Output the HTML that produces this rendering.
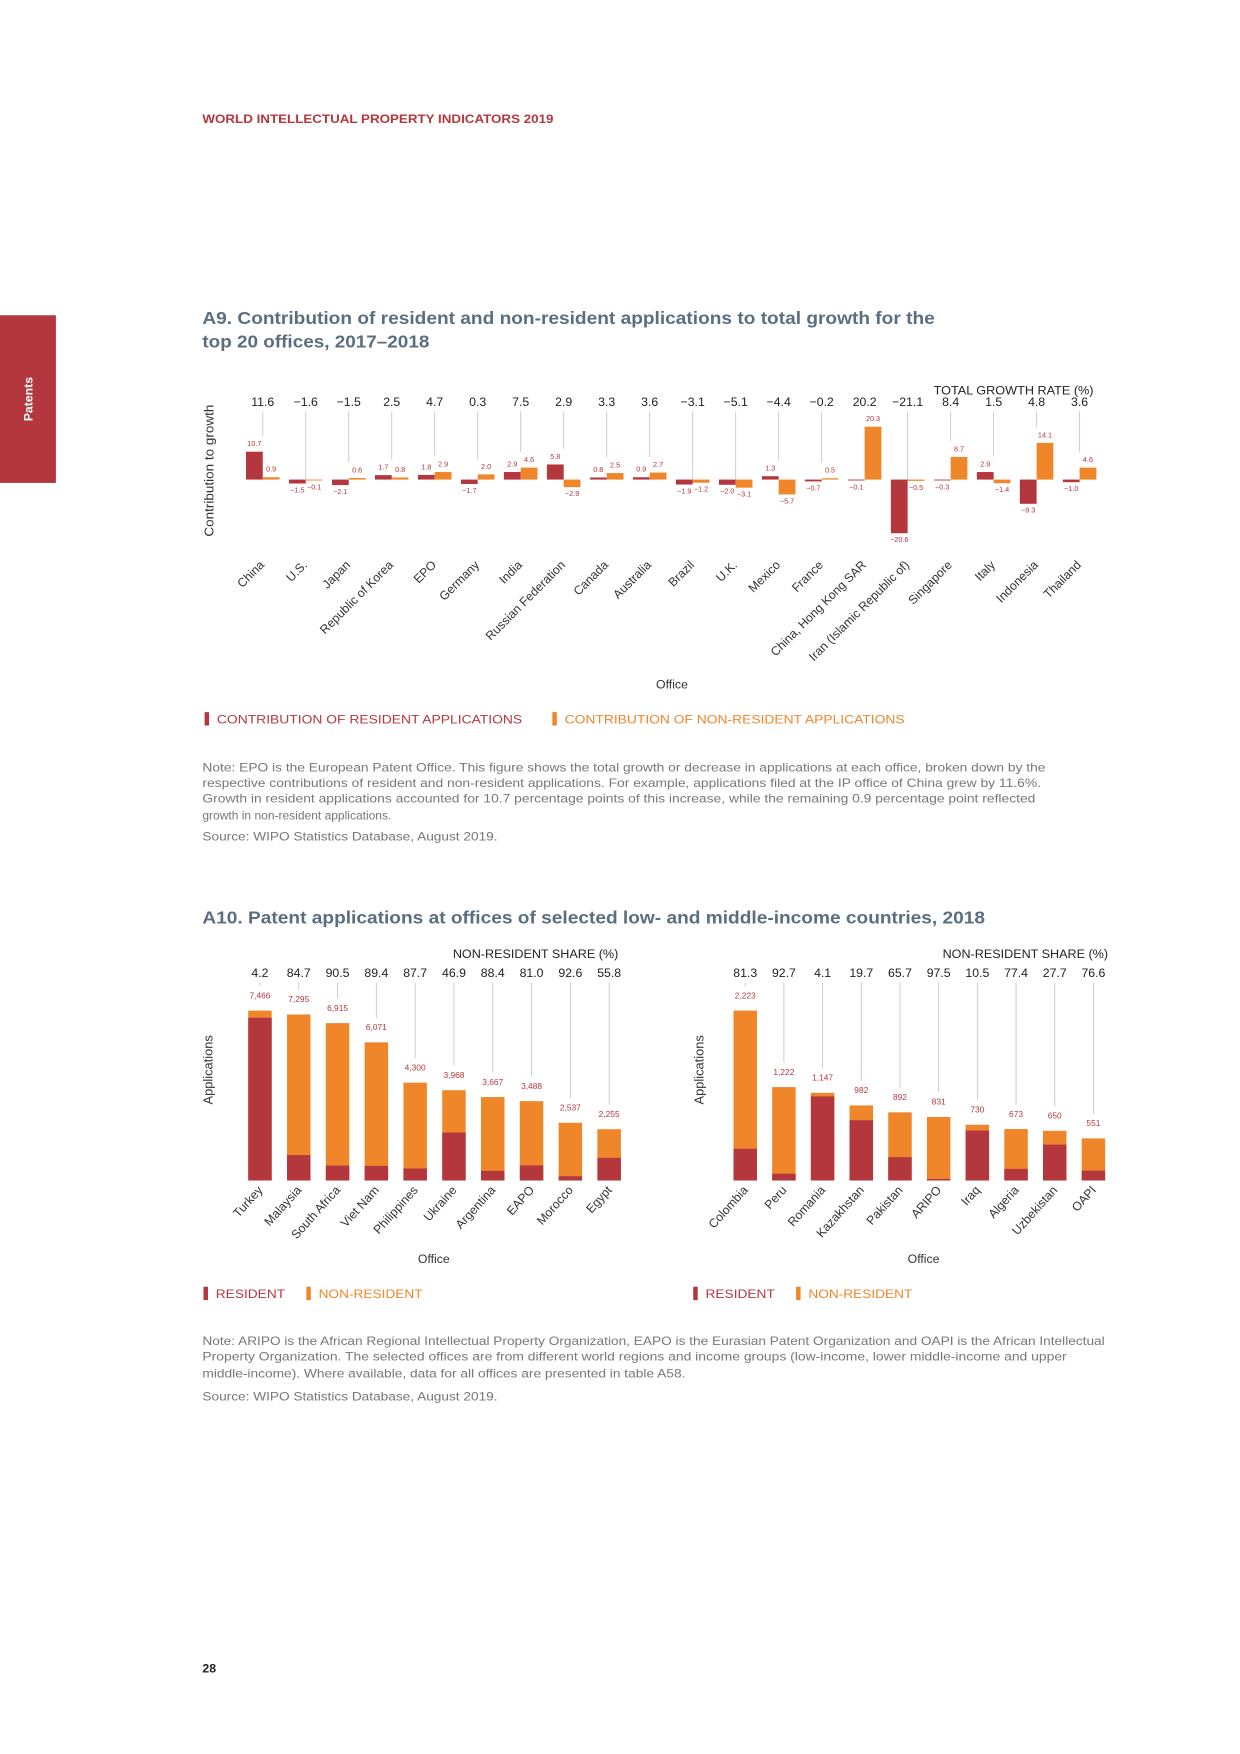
<!DOCTYPE html>
<html><head><meta charset="utf-8"><style>
html,body{margin:0;padding:0;background:#fff}
svg{display:block;font-family:"Liberation Sans",Arial,sans-serif}
</style></head><body>
<svg id="page" width="1240" height="1754" viewBox="0 0 1109 1569" preserveAspectRatio="none" xmlns="http://www.w3.org/2000/svg">
<text x="181" y="110" font-size="11" font-weight="bold" fill="#b5373e" textLength="314" lengthAdjust="spacingAndGlyphs">WORLD INTELLECTUAL PROPERTY INDICATORS 2019</text>
<rect x="0" y="282" width="50" height="150" fill="#b5373e"/>
<text transform="translate(29,357) rotate(-90)" text-anchor="middle" font-size="11" font-weight="bold" fill="#fff">Patents</text>

<text x="181" y="290" font-size="15.5" font-weight="bold" fill="#5b6e7f" textLength="655" lengthAdjust="spacingAndGlyphs">A9. Contribution of resident and non-resident applications to total growth for the</text>
<text x="181" y="311" font-size="15.5" font-weight="bold" fill="#5b6e7f" textLength="203" lengthAdjust="spacingAndGlyphs">top 20 offices, 2017–2018</text>
<g id="a9"></g>
<text transform="translate(191,421) rotate(-90)" text-anchor="middle" font-size="11.5" fill="#333" textLength="118" lengthAdjust="spacingAndGlyphs">Contribution to growth</text>
<text x="835" y="353" font-size="11" fill="#222" textLength="143" lengthAdjust="spacingAndGlyphs">TOTAL GROWTH RATE (%)</text>
<text x="601" y="616" text-anchor="middle" font-size="11" fill="#333">Office</text>
<g>
<rect x="183" y="637" width="4" height="12" fill="#b5373e"/>
<text x="194" y="647" font-size="11" fill="#b5373e" textLength="273" lengthAdjust="spacingAndGlyphs">CONTRIBUTION OF RESIDENT APPLICATIONS</text>
<rect x="494" y="637" width="4" height="12" fill="#f0862a"/>
<text x="505" y="647" font-size="11" fill="#f0862a" textLength="304" lengthAdjust="spacingAndGlyphs">CONTRIBUTION OF NON-RESIDENT APPLICATIONS</text>
</g>
<g font-size="10.5" fill="#777">
<text x="181" y="690" textLength="754" lengthAdjust="spacingAndGlyphs">Note: EPO is the European Patent Office. This figure shows the total growth or decrease in applications at each office, broken down by the</text>
<text x="181" y="704" textLength="750" lengthAdjust="spacingAndGlyphs">respective contributions of resident and non-resident applications. For example, applications filed at the IP office of China grew by 11.6%.</text>
<text x="181" y="718" textLength="745" lengthAdjust="spacingAndGlyphs">Growth in resident applications accounted for 10.7 percentage points of this increase, while the remaining 0.9 percentage point reflected</text>
<text x="181" y="733" textLength="169" lengthAdjust="spacingAndGlyphs">growth in non-resident applications.</text>
<text x="181" y="752" textLength="264" lengthAdjust="spacingAndGlyphs">Source: WIPO Statistics Database, August 2019.</text>
</g>

<text x="181" y="826" font-size="15.5" font-weight="bold" fill="#5b6e7f" textLength="700" lengthAdjust="spacingAndGlyphs">A10. Patent applications at offices of selected low- and middle-income countries, 2018</text>
<g id="a10l"></g>
<g id="a10r"></g>
<text x="405" y="857" font-size="11" fill="#222" textLength="148" lengthAdjust="spacingAndGlyphs">NON-RESIDENT SHARE (%)</text>
<text x="843" y="857" font-size="11" fill="#222" textLength="148" lengthAdjust="spacingAndGlyphs">NON-RESIDENT SHARE (%)</text>
<text transform="translate(190,957) rotate(-90)" text-anchor="middle" font-size="11.5" fill="#333">Applications</text>
<text transform="translate(629,957) rotate(-90)" text-anchor="middle" font-size="11.5" fill="#333">Applications</text>
<text x="388" y="1130" text-anchor="middle" font-size="11" fill="#333">Office</text>
<text x="826" y="1130" text-anchor="middle" font-size="11" fill="#333">Office</text>
<g>
<rect x="182" y="1151" width="4" height="12" fill="#b5373e"/>
<text x="193" y="1161" font-size="11" fill="#b5373e" textLength="62" lengthAdjust="spacingAndGlyphs">RESIDENT</text>
<rect x="274" y="1151" width="4" height="12" fill="#f0862a"/>
<text x="285" y="1161" font-size="11" fill="#f0862a" textLength="93" lengthAdjust="spacingAndGlyphs">NON-RESIDENT</text>
</g>
<g>
<rect x="620" y="1151" width="4" height="12" fill="#b5373e"/>
<text x="631" y="1161" font-size="11" fill="#b5373e" textLength="62" lengthAdjust="spacingAndGlyphs">RESIDENT</text>
<rect x="712" y="1151" width="4" height="12" fill="#f0862a"/>
<text x="723" y="1161" font-size="11" fill="#f0862a" textLength="93" lengthAdjust="spacingAndGlyphs">NON-RESIDENT</text>
</g>
<g font-size="10.5" fill="#777">
<text x="181" y="1203" textLength="807" lengthAdjust="spacingAndGlyphs">Note: ARIPO is the African Regional Intellectual Property Organization, EAPO is the Eurasian Patent Organization and OAPI is the African Intellectual</text>
<text x="181" y="1217" textLength="773" lengthAdjust="spacingAndGlyphs">Property Organization. The selected offices are from different world regions and income groups (low-income, lower middle-income and upper</text>
<text x="181" y="1232" textLength="432" lengthAdjust="spacingAndGlyphs">middle-income). Where available, data for all offices are presented in table A58.</text>
<text x="181" y="1253" textLength="264" lengthAdjust="spacingAndGlyphs">Source: WIPO Statistics Database, August 2019.</text>
</g>
<text x="181" y="1496" font-size="11" font-weight="bold" fill="#222">28</text>
</svg>
<script>
const a9Offices = ["China","U.S.","Japan","Republic of Korea","EPO","Germany","India","Russian Federation","Canada","Australia","Brazil","U.K.","Mexico","France","China, Hong Kong SAR","Iran (Islamic Republic of)","Singapore","Italy","Indonesia","Thailand"];
const a9Resident = [10.7,-1.5,-2.1,1.7,1.8,-1.7,2.9,5.8,0.8,0.9,-1.9,-2.0,1.3,-0.7,-0.1,-20.6,-0.3,2.9,-9.3,-1.0];
const a9NonResident = [0.9,-0.1,0.6,0.8,2.9,2.0,4.6,-2.9,2.5,2.7,-1.2,-3.1,-5.7,0.5,20.3,-0.5,8.7,-1.4,14.1,4.6];
const a9Growth = ["11.6","−1.6","−1.5","2.5","4.7","0.3","7.5","2.9","3.3","3.6","−3.1","−5.1","−4.4","−0.2","20.2","−21.1","8.4","1.5","4.8","3.6"];

const leftOffices = ["Turkey","Malaysia","South Africa","Viet Nam","Philippines","Ukraine","Argentina","EAPO","Morocco","Egypt"];
const leftTotals = [7466,7295,6915,6071,4300,3968,3667,3488,2537,2255];
const leftShares = [4.2,84.7,90.5,89.4,87.7,46.9,88.4,81.0,92.6,55.8];
const rightOffices = ["Colombia","Peru","Romania","Kazakhstan","Pakistan","ARIPO","Iraq","Algeria","Uzbekistan","OAPI"];
const rightTotals = [2223,1222,1147,982,892,831,730,673,650,551];
const rightShares = [81.3,92.7,4.1,19.7,65.7,97.5,10.5,77.4,27.7,76.6];

const NS="http://www.w3.org/2000/svg";
const RED="#b5373e", ORG="#f0862a";
function mk(tag, attrs, parent){const e=document.createElementNS(NS,tag);for(const k in attrs)e.setAttribute(k,attrs[k]);parent.appendChild(e);return e;}
function fmtNum(v){return v.toLocaleString("en-US");}
function fmtSigned(v){return (v<0?"−":"")+Math.abs(v).toFixed(1);}

// A9
(function(){
  const g=document.getElementById("a9");
  const zeroY=429, sc=2.33, x0=235, step=38.45, bw=15;
  const y=v=>zeroY-v*sc;
  a9Offices.forEach((name,i)=>{
    const cx=x0+i*step;
    const r=a9Resident[i], n=a9NonResident[i];
    const gt=mk("text",{x:cx,y:363,"text-anchor":"middle","font-size":"11",fill:"#222"},g);
    
    
    gt.textContent=a9Growth[i];
    const maxPos=Math.max(0,r,n);
    const lineEnd = maxPos>0 ? y(maxPos)-14 : zeroY;
    const ln=mk("line",{x1:cx,x2:cx,y1:368,y2:lineEnd,stroke:"#c8c8c8","stroke-width":"0.8"},g);
    
    
    [[r,cx-bw,RED,'resident-bar'],[n,cx,ORG,'nonresident-bar']].forEach(([v,bx,col,nm])=>{
      const top=Math.min(y(v),zeroY), h=Math.max(Math.abs(y(v)-zeroY),0.8);
      const b=mk("rect",{x:bx,y:top,width:bw,height:h,fill:col},g);
      
      
      const ly = v>=0 ? top-5 : top+h+8;
      const t=mk("text",{x:bx+bw/2,y:ly,"text-anchor":"middle","font-size":"6.5",fill:RED},g);
      
      
      t.textContent=fmtSigned(v);
    });
    const c=mk("text",{transform:`translate(${cx+2},506) rotate(-45)`,"text-anchor":"end","font-size":"11",fill:"#333"},g);
    
    
    c.textContent=name;
  });
})();

// A10
function drawA10(id,offices,totals,shares,x0,step,maxVal){
  const g=document.getElementById(id);
  const base=1056, hmax=152, bw=21;
  const h=v=>v/maxVal*hmax;
  offices.forEach((name,i)=>{
    const cx=x0+i*step;
    const tot=totals[i], res=tot*(1-shares[i]/100);
    const topY=base-h(tot), resY=base-h(res);
    const st=mk("text",{x:cx,y:874,"text-anchor":"middle","font-size":"11",fill:"#222"},g);
    
    
    st.textContent=shares[i].toFixed(1);
    const ln=mk("line",{x1:cx,x2:cx,y1:879,y2:topY-22,stroke:"#c8c8c8","stroke-width":"0.8"},g);
    
    
    const ob=mk("rect",{x:cx-bw/2,y:topY,width:bw,height:base-topY,fill:ORG},g);
    
    
    const rb=mk("rect",{x:cx-bw/2,y:resY,width:bw,height:base-resY,fill:RED},g);
    
    
    const vt=mk("text",{x:cx,y:topY-11,"text-anchor":"middle","font-size":"7.5",fill:RED},g);
    
    
    vt.textContent=fmtNum(tot);
    const c=mk("text",{transform:`translate(${cx+3},1065) rotate(-48)`,"text-anchor":"end","font-size":"11",fill:"#333"},g);
    
    
    c.textContent=name;
  });
}
drawA10("a10l",leftOffices,leftTotals,leftShares,232.5,34.7,Math.max(...leftTotals));
drawA10("a10r",rightOffices,rightTotals,rightShares,666.5,34.6,Math.max(...rightTotals));
</script>
</body></html>
